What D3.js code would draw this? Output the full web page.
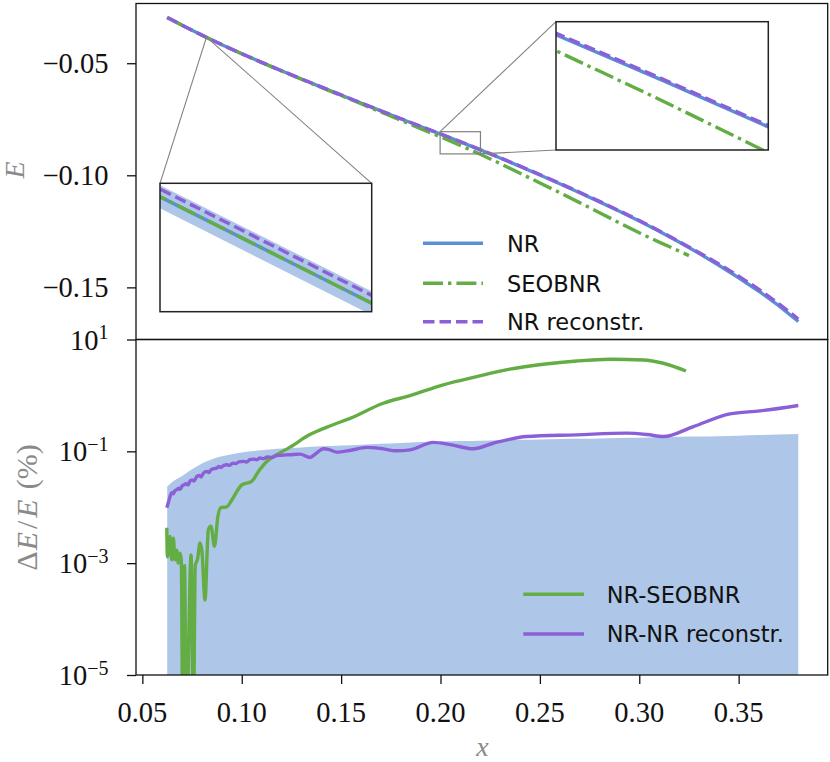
<!DOCTYPE html>
<html><head><meta charset="utf-8">
<script src="https://cdn.jsdelivr.net/npm/d3@7"></script>
<style>body{margin:0;background:#fff} svg{display:block}</style>
</head><body><svg id="c" width="830" height="762"></svg>
<script>
// ---------- data ----------
const xTop = [0.0625,0.065,0.07,0.075,0.08,0.085,0.09,0.095,0.10,0.11,0.12,0.13,0.14,0.15,0.16,0.17,0.18,0.19,0.20,0.21,0.22,0.23,0.24,0.25,0.26,0.27,0.28,0.29,0.30,0.31,0.32,0.33,0.34,0.35,0.36,0.37,0.38];
const eNR = [-0.0296,-0.03075,-0.03305,-0.03528,-0.03748,-0.03963,-0.04173,-0.04378,-0.04578,-0.04963,-0.05338,-0.05703,-0.06063,-0.06420,-0.06775,-0.07128,-0.07478,-0.07823,-0.08163,-0.08508,-0.08863,-0.09228,-0.09603,-0.09986,-0.10376,-0.10776,-0.11186,-0.11606,-0.12041,-0.12496,-0.12976,-0.13481,-0.14011,-0.14571,-0.15161,-0.15801,-0.16521];
const eRecon = [-0.029597,-0.030744,-0.033042,-0.035269,-0.037465,-0.039611,-0.041708,-0.043754,-0.045750,-0.049592,-0.053336,-0.056980,-0.060569,-0.064136,-0.067674,-0.071200,-0.074702,-0.078124,-0.081512,-0.084973,-0.088531,-0.092150,-0.095870,-0.099680,-0.103565,-0.107555,-0.111645,-0.115830,-0.120160,-0.124730,-0.129520,-0.134410,-0.139510,-0.144960,-0.150760,-0.157110,-0.164110];
const bandPct = [0.0234,0.0282,0.0363,0.0479,0.0603,0.0724,0.0813,0.0891,0.0955,0.1047,0.1122,0.1175,0.1230,0.1274,0.1318,0.1365,0.1413,0.1462,0.1496,0.1531,0.1549,0.1585,0.1603,0.1622,0.1660,0.1679,0.1698,0.1738,0.1758,0.1778,0.1820,0.1841,0.1862,0.1905,0.1950,0.1995,0.2042];
const xSeob = [0.0625,0.065,0.07,0.075,0.08,0.085,0.09,0.095,0.10,0.11,0.12,0.13,0.14,0.15,0.16,0.17,0.18,0.19,0.20,0.21,0.22,0.23,0.24,0.25,0.26,0.27,0.28,0.29,0.30,0.31,0.32,0.325];
const eSeob = [-0.0296,-0.03075,-0.03305,-0.03528,-0.03748,-0.03963,-0.04173,-0.04378,-0.045791,-0.049657,-0.053431,-0.057125,-0.060776,-0.064418,-0.068075,-0.071765,-0.075460,-0.079161,-0.082863,-0.086663,-0.090615,-0.094762,-0.099065,-0.103405,-0.107755,-0.112200,-0.116692,-0.121202,-0.125672,-0.129821,-0.133770,-0.135843];

const xDiffSeob = [0.0623,0.0626,0.0639,0.0648,0.0656,0.0664,0.0673,0.0681,0.0690,0.0696,0.0703,0.0712,0.0722,0.0745,0.0757,0.0766,0.0778,0.0790,0.0800,0.0815,0.0832,0.0845,0.0863,0.0880,0.0895,0.0925,0.0950,0.1000,0.1050,0.1090,0.1126,0.1176,0.1243,0.1340,0.1450,0.1545,0.1712,0.1847,0.2014,0.2182,0.2349,0.2517,0.2685,0.2853,0.3020,0.3121,0.3235];
const pctDiffSeob = [0.0043,0.0013,0.0030,0.00115,0.0028,0.00115,0.0017,0.0010,0.0015,0.0011,0.000001,0.0009,0.000001,0.0014,0.000001,0.0009,0.0012,0.0023,0.0016,0.00022,0.0040,0.0046,0.0020,0.0069,0.0098,0.0102,0.0135,0.025,0.029,0.047,0.066,0.087,0.119,0.197,0.29,0.389,0.724,0.993,1.55,2.17,2.95,3.61,4.13,4.43,4.31,3.76,2.73];
const xDiffRec = [0.0623,0.0632,0.0640,0.0648,0.0656,0.0664,0.0673,0.0681,0.0690,0.0700,0.0710,0.0720,0.0730,0.0740,0.0750,0.0760,0.0774,0.0785,0.0795,0.0805,0.0815,0.0824,0.0835,0.0845,0.0860,0.0874,0.0885,0.0895,0.0910,0.0925,0.0940,0.0955,0.0970,0.0985,0.1008,0.1025,0.1040,0.1060,0.1075,0.1092,0.1110,0.1130,0.1150,0.1176,0.1200,0.1243,0.1293,0.1343,0.1380,0.1410,0.1440,0.1477,0.1550,0.1628,0.1700,0.1779,0.1847,0.1964,0.2050,0.2165,0.2265,0.2433,0.2685,0.2936,0.3040,0.3121,0.3272,0.3456,0.3607,0.3800];
const pctDiffRec = [0.00977,0.01259,0.01585,0.01820,0.01738,0.01995,0.02042,0.02188,0.02089,0.02399,0.02512,0.02630,0.02512,0.02951,0.03090,0.02951,0.03548,0.03715,0.03467,0.03981,0.04266,0.04365,0.04169,0.04677,0.04898,0.05012,0.05370,0.05129,0.05623,0.05754,0.05623,0.06166,0.06026,0.06457,0.06607,0.06457,0.07079,0.07244,0.07079,0.07586,0.07413,0.07943,0.07762,0.08414,0.08511,0.08710,0.08913,0.07762,0.09550,0.1109,0.1072,0.09661,0.1047,0.1175,0.1122,0.1023,0.1064,0.1445,0.1318,0.1109,0.1396,0.1837,0.1972,0.2113,0.1995,0.1837,0.2773,0.4677,0.5284,0.6607];

const xTicks = [0.05,0.10,0.15,0.20,0.25,0.30,0.35];
const xTickLabels = ["0.05","0.10","0.15","0.20","0.25","0.30","0.35"];
const yTopTicks = [-0.05,-0.10,-0.15];
const yTopTickLabels = ["\u22120.05","\u22120.10","\u22120.15"];
const yBotTicks = [1e1,1e-1,1e-3,1e-5];
const yBotTickExp = ["1","\u22121","\u22123","\u22125"];
const legendTop = ["NR","SEOBNR","NR reconstr."];
const legendBot = ["NR-SEOBNR","NR-NR reconstr."];

// ---------- styles ----------
const C = {blue:"#5b8fd5", green:"#64ad45", purple:"#8b5fd7", band:"#aec7e8", lab:"#8a8a8a"};
const LW = 3.4;
const DASH = "11.5,5", DASHDOT = "20,5,3.4,5";
const SERIF = "'Liberation Serif', serif", SANS = "'DejaVu Sans', sans-serif";

const svg = d3.select("#c");
const L=136, R=827.7, T1=3.5, B1=339.5, T2=339.5, B2=675;
const x = d3.scaleLinear().domain([0.0468,0.3948]).range([L,R]);
const yTop = d3.scaleLinear().domain([-0.17326,-0.02335]).range([B1,T1]);
const yBot = d3.scaleLog().domain([1e-5,10]).range([B2,T2]);

const defs = svg.append("defs");
function clip(id, x0,y0,x1,y1){ defs.append("clipPath").attr("id",id).append("rect").attr("x",x0).attr("y",y0).attr("width",x1-x0).attr("height",y1-y0); return `url(#${id})`; }

const topData = xTop.map((v,i)=>({x:v, nr:eNR[i], rc:eRecon[i], b:bandPct[i]}));
const seobData = xSeob.map((v,i)=>({x:v, e:eSeob[i]}));

function drawTopSeries(g, xs, ys){
  g.append("path").datum(topData).attr("fill",C.band)
    .attr("d", d3.area().x(d=>xs(d.x)).y0(d=>ys(d.nr - Math.abs(d.nr)*d.b/100)).y1(d=>ys(d.nr + Math.abs(d.nr)*d.b/100)));
  g.append("path").datum(topData).attr("fill","none").attr("stroke",C.blue).attr("stroke-width",LW)
    .attr("d", d3.line().x(d=>xs(d.x)).y(d=>ys(d.nr)));
  g.append("path").datum(seobData).attr("fill","none").attr("stroke",C.green).attr("stroke-width",LW).attr("stroke-dasharray",DASHDOT)
    .attr("d", d3.line().x(d=>xs(d.x)).y(d=>ys(d.e)));
  g.append("path").datum(topData).attr("fill","none").attr("stroke",C.purple).attr("stroke-width",LW).attr("stroke-dasharray",DASH)
    .attr("d", d3.line().x(d=>xs(d.x)).y(d=>ys(d.rc)));
}

// ---------- top panel ----------
const gTop = svg.append("g").attr("clip-path", clip("cTop",L,T1,R,B1));
drawTopSeries(gTop, x, yTop);

// ---------- bottom panel ----------
const gBot = svg.append("g").attr("clip-path", clip("cBot",L,T2,R,B2));
gBot.append("path").datum(topData).attr("fill",C.band)
  .attr("d", d3.area().curve(d3.curveMonotoneX).x(d=>x(d.x)).y0(B2+5).y1(d=>yBot(d.b)));
gBot.append("path").datum(xDiffSeob.map((v,i)=>[v,pctDiffSeob[i]])).attr("fill","none").attr("stroke",C.green).attr("stroke-width",LW).attr("stroke-linejoin","round")
  .attr("d", d3.line().curve(d3.curveMonotoneX).x(d=>x(d[0])).y(d=>yBot(d[1])));
gBot.append("path").datum(xDiffRec.map((v,i)=>[v,pctDiffRec[i]])).attr("fill","none").attr("stroke",C.purple).attr("stroke-width",LW).attr("stroke-linejoin","round")
  .attr("d", d3.line().curve(d3.curveMonotoneX).x(d=>x(d[0])).y(d=>yBot(d[1])));

// ---------- insets ----------
let ic = 0;
function inset(box, xd, yd, conns){
  const xs = d3.scaleLinear().domain(xd).range([box.x0, box.x1]);
  const ys = d3.scaleLinear().domain(yd).range([box.y1, box.y0]);
  const rx0 = x(xd[0]), rx1 = x(xd[1]), ry0 = yTop(yd[1]), ry1 = yTop(yd[0]);
  svg.append("rect").attr("x",rx0).attr("y",ry0).attr("width",Math.max(rx1-rx0,0.5)).attr("height",Math.max(ry1-ry0,0.5))
    .attr("fill","none").attr("stroke","#808080").attr("stroke-width",1.2);
  const rc = {tl:[rx0,ry0], tr:[rx1,ry0], bl:[rx0,ry1], br:[rx1,ry1]};
  const bc = {tl:[box.x0,box.y0], tr:[box.x1,box.y0], bl:[box.x0,box.y1], br:[box.x1,box.y1]};
  conns.forEach(([a,b])=>{
    svg.append("line").attr("x1",bc[a][0]).attr("y1",bc[a][1]).attr("x2",rc[b][0]).attr("y2",rc[b][1])
      .attr("stroke","#808080").attr("stroke-width",1.1);
  });
  svg.append("rect").attr("x",box.x0).attr("y",box.y0).attr("width",box.x1-box.x0).attr("height",box.y1-box.y0).attr("fill","#fff");
  const g = svg.append("g").attr("clip-path", clip("cIn"+(ic++), box.x0, box.y0, box.x1, box.y1));
  drawTopSeries(g, xs, ys);
  svg.append("rect").attr("x",box.x0).attr("y",box.y0).attr("width",box.x1-box.x0).attr("height",box.y1-box.y0)
    .attr("fill","none").attr("stroke","#222").attr("stroke-width",1.5);
}
inset({x0:160,x1:371.7,y0:183.3,y1:311.7}, [0.08215,0.08269], [-0.0386552,-0.0383752], [["tl","bl"],["tr","br"]]);
inset({x0:556,x1:768.3,y0:21.7,y1:150}, [0.1998,0.2201], [-0.09045,-0.08055], [["tl","tl"],["bl","br"]]);

// ---------- frames & axes ----------
svg.append("rect").attr("x",L).attr("y",T1).attr("width",R-L).attr("height",B1-T1).attr("fill","none").attr("stroke","#111").attr("stroke-width",1.3);
svg.append("rect").attr("x",L).attr("y",T2).attr("width",R-L).attr("height",B2-T2).attr("fill","none").attr("stroke","#111").attr("stroke-width",1.3);

function ticksOnly(g){ g.select(".domain").remove(); g.selectAll(".tick line").attr("stroke","#111").attr("stroke-width",1.3); g.selectAll(".tick text").remove(); }
svg.append("g").attr("transform",`translate(${L},0)`).call(d3.axisLeft(yTop).tickValues(yTopTicks).tickSize(9)).call(ticksOnly);
svg.append("g").attr("transform",`translate(${L},0)`).call(d3.axisLeft(yBot).tickValues(yBotTicks).tickSize(9)).call(ticksOnly);
svg.append("g").attr("transform",`translate(0,${B2})`).call(d3.axisBottom(x).tickValues(xTicks).tickSize(9)).call(ticksOnly);

const tl = svg.append("g").attr("font-family",SERIF).attr("font-size",28.5).attr("fill","#111");
yTopTicks.forEach((v,i)=>{
  tl.append("text").attr("x",108.5).attr("y",yTop(v)+9.5).attr("text-anchor","end").text(yTopTickLabels[i]);
});
yBotTicks.forEach((v,i)=>{
  const t = tl.append("text").attr("x",108.5).attr("y",yBot(v)+10).attr("text-anchor","end");
  t.append("tspan").text("10");
  t.append("tspan").attr("dy",-10.5).attr("font-size",20).text(yBotTickExp[i]);
});
xTicks.forEach((v,i)=>{
  tl.append("text").attr("x",x(v)).attr("y",722).attr("text-anchor","middle").text(xTickLabels[i]);
});

// axis labels
svg.append("text").attr("transform","translate(24,170) rotate(-90)").attr("text-anchor","middle")
  .attr("font-family",SERIF).attr("font-style","italic").attr("font-size",28).attr("fill",C.lab).text("E");
const yl = svg.append("text").attr("transform","translate(37,507.5) rotate(-90)").attr("text-anchor","middle")
  .attr("font-family",SERIF).attr("font-size",30).attr("fill",C.lab);
yl.append("tspan").text("\u0394");
yl.append("tspan").attr("font-style","italic").attr("dx",1).text("E");
yl.append("tspan").attr("dx",3).text("/");
yl.append("tspan").attr("font-style","italic").attr("dx",3).text("E");
yl.append("tspan").attr("dx",10).text("(%)");
svg.append("text").attr("x",482.5).attr("y",756).attr("text-anchor","middle")
  .attr("font-family",SERIF).attr("font-style","italic").attr("font-size",28).attr("fill",C.lab).text("x");

// legends
const lgT = [{c:C.blue,d:null},{c:C.green,d:DASHDOT},{c:C.purple,d:DASH}];
const lgTy = [243.3,283.3,321.7];
legendTop.forEach((s,i)=>{
  const l = svg.append("line").attr("x1",423).attr("x2",483).attr("y1",lgTy[i]).attr("y2",lgTy[i]).attr("stroke",lgT[i].c).attr("stroke-width",LW);
  if(lgT[i].d) l.attr("stroke-dasharray",lgT[i].d);
  svg.append("text").attr("x",507).attr("y",lgTy[i]+8.2).attr("font-family",SANS).attr("font-size",22.5).attr("fill","#111").text(s);
});
const lgBc = [C.green, C.purple], lgBy = [594.3,634];
legendBot.forEach((s,i)=>{
  svg.append("line").attr("x1",523.3).attr("x2",584).attr("y1",lgBy[i]).attr("y2",lgBy[i]).attr("stroke",lgBc[i]).attr("stroke-width",LW);
  svg.append("text").attr("x",606.7).attr("y",lgBy[i]+8.2).attr("font-family",SANS).attr("font-size",22.5).attr("fill","#111").text(s);
});
</script></body></html>
